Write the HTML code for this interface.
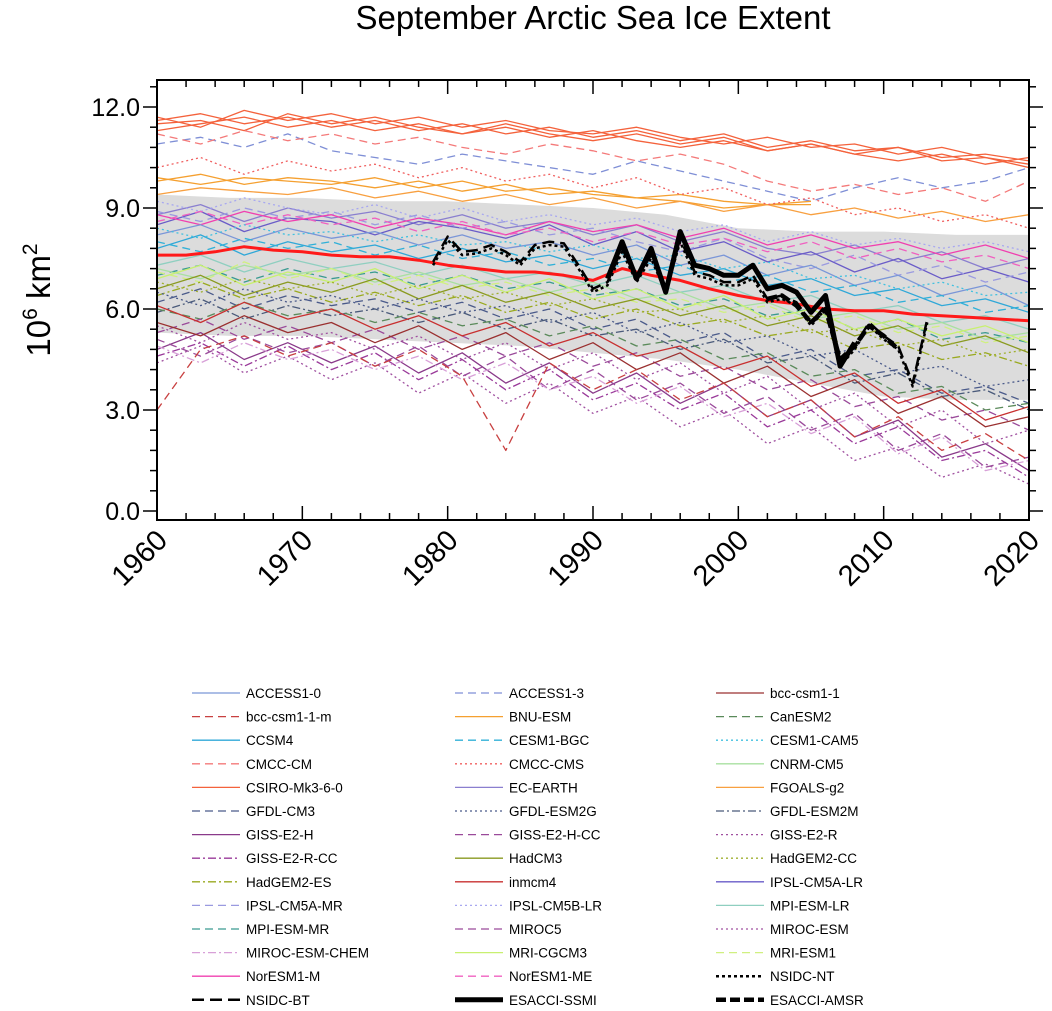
<!DOCTYPE html>
<html><head><meta charset="utf-8"><style>
body{margin:0;background:#fff;font-family:"Liberation Sans",sans-serif}
</style></head><body>
<svg id="c" width="1052" height="1006" xmlns="http://www.w3.org/2000/svg" font-family="Liberation Sans, sans-serif">
<text x="593" y="29" text-anchor="middle" font-size="33">September Arctic Sea Ice Extent</text>
<text transform="translate(50,300) rotate(-90)" text-anchor="middle" font-size="33">10<tspan dy="-13" font-size="21">6</tspan><tspan dy="13"> km</tspan><tspan dy="-13" font-size="21">2</tspan></text>
<g id="plot"></g>
<g id="axes"></g>
<g id="legend"></g>
</svg>
<script>
const modelYears=[1960,1963,1966,1969,1972,1975,1978,1981,1984,1987,1990,1993,1996,1999,2002,2005,2008,2011,2014,2017,2020];
const modelNames=["CSIRO-Mk3-6-0","CSIRO-Mk3-6-0","CSIRO-Mk3-6-0","CSIRO-Mk3-6-0","ACCESS1-3","CMCC-CM","BNU-ESM","BNU-ESM","FGOALS-g2","CMCC-CMS","EC-EARTH","IPSL-CM5A-LR","IPSL-CM5A-MR","IPSL-CM5B-LR","NorESM1-M","NorESM1-ME","ACCESS1-0","CCSM4","CESM1-BGC","CESM1-CAM5","MPI-ESM-LR","MPI-ESM-MR","CNRM-CM5","MRI-CGCM3","MRI-ESM1","HadCM3","HadGEM2-CC","HadGEM2-ES","GFDL-CM3","GFDL-ESM2G","GFDL-ESM2M","CanESM2","GISS-E2-H","GISS-E2-H-CC","GISS-E2-R","GISS-E2-R-CC","MIROC5","MIROC-ESM","MIROC-ESM-CHEM","bcc-csm1-1","bcc-csm1-1-m","inmcm4"];
const modelValues=[
[11.6,11.8,11.5,11.7,11.4,11.6,11.3,11.5,11.2,11.4,11.1,11.3,11.0,11.2,10.8,11.0,10.7,10.8,10.5,10.6,10.4],
[11.3,11.5,11.7,11.4,11.6,11.3,11.5,11.2,11.4,11.1,11.3,11.0,10.8,11.0,10.7,10.9,10.6,10.4,10.6,10.3,10.5],
[11.7,11.4,11.9,11.6,11.8,11.5,11.7,11.4,11.6,11.3,11.2,11.4,11.1,10.9,11.1,10.8,10.9,10.6,10.8,10.5,10.3],
[11.5,11.6,11.3,11.8,11.5,11.7,11.4,11.2,11.5,11.2,11.0,11.2,10.9,11.1,10.7,10.9,10.6,10.8,10.4,10.5,10.2],
[10.9,11.1,10.8,11.2,10.7,10.5,10.3,10.6,10.4,10.2,10.0,10.4,10.1,9.8,9.5,9.2,9.6,9.9,9.6,9.8,10.2],
[11.2,10.9,11.3,11.0,11.2,10.9,11.1,10.8,10.6,10.9,10.7,10.4,10.6,10.3,9.8,9.5,9.7,9.4,9.6,9.2,9.8],
[9.9,9.7,9.9,9.8,9.7,9.9,9.6,9.8,9.5,9.6,9.4,9.3,9.4,9.2,9.1,9.1,null,null,null,null,null],
[9.8,10.0,9.7,9.9,9.8,9.6,9.8,9.5,9.7,9.4,9.5,9.3,9.2,9.0,9.1,9.2,null,null,null,null,null],
[9.4,9.6,9.5,9.4,9.6,9.3,9.5,9.2,9.4,9.1,9.3,9.0,9.2,8.9,9.1,8.8,9.0,8.7,8.9,8.6,8.8],
[10.2,10.5,10.0,10.4,10.1,10.3,9.9,10.2,9.8,10.0,9.6,9.9,9.4,9.6,9.1,9.3,8.8,9.0,8.6,8.8,8.4],
[8.8,9.1,8.6,9.0,8.7,8.9,8.5,8.8,8.4,8.6,8.2,8.5,8.0,8.3,7.8,7.6,7.9,7.4,7.7,7.2,7.5],
[8.5,8.9,8.3,8.7,8.6,8.2,8.6,8.4,8.1,8.5,7.9,8.3,7.7,8.0,7.4,7.7,7.1,7.5,6.9,7.2,6.8],
[8.9,8.6,9.0,8.7,8.9,8.5,8.8,8.4,8.6,8.2,8.4,8.0,7.7,8.1,7.5,7.2,7.6,7.0,7.3,6.8,7.1],
[9.2,8.9,9.3,9.0,8.8,9.1,8.7,9.0,8.6,8.8,8.5,8.7,8.3,8.5,8.0,8.3,7.9,8.1,7.8,8.0,7.7],
[8.8,8.5,8.9,8.6,8.8,8.4,8.7,8.5,8.2,8.6,8.3,8.5,8.1,8.4,7.9,8.2,7.8,8.0,7.6,7.9,7.5],
[8.6,8.9,8.5,8.8,8.5,8.7,8.3,8.6,8.2,8.4,8.0,8.3,7.9,8.1,7.7,8.0,7.5,7.8,7.4,7.6,7.2],
[8.2,8.5,8.0,8.4,8.1,8.3,7.9,8.2,7.8,8.0,7.6,7.9,7.3,7.6,7.0,7.3,6.7,7.0,6.4,6.7,6.1],
[7.8,8.2,7.6,8.0,7.7,7.9,7.5,7.8,7.4,7.6,7.2,7.5,7.0,7.2,6.7,6.9,6.4,6.6,6.1,6.3,5.9],
[8.0,7.7,8.1,7.8,8.0,7.6,7.9,7.5,7.7,7.3,7.5,7.1,7.3,6.8,7.0,6.5,6.7,6.2,6.4,5.9,6.1],
[8.4,8.1,8.5,8.2,8.3,8.0,8.2,7.9,8.0,7.7,7.9,7.5,7.6,7.2,7.4,6.9,7.0,6.6,6.8,6.4,6.5],
[7.3,7.6,7.1,7.5,7.2,7.4,7.0,7.3,6.9,7.1,6.7,7.0,6.5,6.7,6.2,6.4,5.9,6.1,5.6,5.8,5.4],
[7.0,7.3,6.8,7.2,6.9,7.1,6.7,7.0,6.6,6.8,6.4,6.6,6.1,6.3,5.8,6.0,5.4,5.7,5.1,5.3,5.0],
[7.2,6.9,7.3,7.0,7.2,6.8,7.1,6.7,6.9,6.5,6.8,6.3,6.5,6.0,6.2,5.7,5.9,5.4,5.6,5.1,5.3],
[6.9,7.3,6.7,7.1,6.8,7.2,6.6,7.0,6.5,6.9,6.3,6.6,6.0,6.4,5.7,6.0,5.4,5.7,5.2,5.5,5.0],
[7.1,6.8,7.4,6.9,7.2,6.7,7.0,6.6,6.8,6.4,6.6,6.2,6.3,5.9,6.1,5.6,5.8,5.3,5.5,5.0,5.2],
[6.6,7.0,6.4,6.8,6.5,6.9,6.3,6.7,6.2,6.5,6.0,6.3,5.8,6.1,5.5,5.8,5.2,5.5,4.9,5.2,4.7],
[6.8,6.5,6.9,6.6,6.8,6.4,6.7,6.3,6.5,6.1,6.3,5.9,6.0,5.6,5.8,5.3,5.4,4.9,5.1,4.6,4.8],
[6.4,6.8,6.3,6.6,6.2,6.5,6.1,6.4,5.9,6.2,5.7,6.0,5.5,5.7,5.2,5.4,4.8,5.0,4.5,4.7,4.3],
[6.2,6.6,6.0,6.4,6.1,6.3,5.9,6.2,5.7,6.0,5.4,5.7,5.0,5.3,4.5,4.8,4.0,4.2,3.5,3.7,3.2],
[6.5,6.1,6.6,6.2,6.4,6.0,6.3,5.9,6.1,5.6,5.9,5.3,5.6,5.0,5.2,4.6,4.8,4.1,4.3,3.7,3.9],
[5.9,6.3,5.7,6.1,5.8,6.0,5.6,5.9,5.4,5.7,5.2,5.4,4.8,5.1,4.4,4.6,3.8,4.1,3.4,3.6,3.0],
[6.0,5.7,6.2,5.8,6.0,5.6,5.9,5.5,5.7,5.2,5.5,4.9,5.1,4.5,4.7,4.0,4.2,3.5,3.7,3.0,3.2],
[4.8,5.3,4.5,5.0,4.4,4.9,4.1,4.7,3.8,4.4,3.5,4.1,3.2,3.8,2.8,3.3,2.2,2.7,1.6,2.0,1.2],
[5.1,4.6,5.2,4.7,5.0,4.3,4.9,4.0,4.6,3.6,4.2,3.3,3.8,2.9,3.4,2.4,2.9,1.8,2.3,1.3,1.6],
[5.5,5.0,5.6,5.1,5.3,4.8,5.2,4.5,5.0,4.2,4.7,3.9,4.4,3.5,4.0,3.0,3.5,2.5,3.0,2.0,2.4],
[4.6,5.0,4.3,4.9,4.2,4.7,3.9,4.5,3.6,4.2,3.3,3.8,3.0,3.5,2.5,3.0,2.0,2.5,1.5,1.8,1.0],
[5.3,5.7,5.1,5.5,5.0,5.4,4.8,5.2,4.6,5.0,4.3,4.7,4.0,4.3,3.6,3.9,3.1,3.4,2.7,3.0,2.4],
[4.4,4.9,4.1,4.6,3.9,4.4,3.5,4.1,3.2,3.8,2.9,3.4,2.5,3.0,2.0,2.5,1.5,1.9,1.0,1.4,0.8],
[4.9,4.4,5.0,4.5,4.8,4.2,4.6,3.9,4.4,3.6,4.0,3.2,3.7,2.8,3.2,2.3,2.8,1.7,2.2,1.2,1.5],
[5.6,5.2,5.8,5.3,5.6,5.0,5.5,4.8,5.3,4.5,5.0,4.2,4.7,3.8,4.3,3.4,3.9,2.9,3.4,2.5,2.8],
[3.0,4.8,5.2,4.6,5.0,4.3,4.8,4.0,1.8,4.4,3.6,4.2,3.3,3.8,2.8,3.3,2.2,2.8,1.8,2.3,1.5],
[6.1,5.6,6.2,5.7,6.0,5.4,5.8,5.2,5.6,4.9,5.3,4.6,4.9,4.2,4.6,3.7,4.1,3.2,3.6,2.7,3.1]
];
const bandYears=[1960,1965,1970,1975,1980,1985,1990,1995,2000,2005,2010,2015,2020];
const bandUpper=[9.4,9.3,9.3,9.2,9.2,9.1,9.0,8.8,8.4,8.3,8.3,8.2,8.2];
const bandLower=[5.3,5.2,5.2,5.1,5.0,4.9,4.7,4.5,4.2,3.8,3.4,3.3,3.3];
const meanYears=[1960,1962,1964,1966,1968,1970,1972,1974,1976,1978,1980,1982,1984,1986,1988,1990,1992,1994,1996,1998,2000,2002,2004,2006,2008,2010,2012,2014,2016,2018,2020];
const meanValues=[7.6,7.6,7.7,7.85,7.75,7.7,7.6,7.55,7.55,7.45,7.3,7.2,7.1,7.1,7.0,6.85,7.2,7.0,6.85,6.6,6.4,6.25,6.15,6.0,5.95,5.95,5.85,5.8,5.75,5.7,5.65];
const ntYears=[1979,1980,1981,1982,1983,1984,1985,1986,1987,1988,1989,1990,1991,1992,1993,1994,1995,1996,1997,1998,1999,2000,2001,2002,2003,2004,2005,2006,2007,2008,2009,2010,2011,2012,2013];
const ntValues=[7.3,8.05,7.6,7.65,7.8,7.6,7.3,7.8,7.9,7.85,7.2,6.5,6.7,7.7,6.8,7.5,6.5,8.0,7.0,6.9,6.7,6.7,6.9,6.2,6.3,6.1,5.5,6.0,4.3,4.8,5.5,5.1,4.8,3.7,5.6];
const btValues=[7.4,8.15,7.7,7.75,7.9,7.7,7.4,7.9,8.0,7.95,7.3,6.6,6.8,7.8,6.9,7.6,6.6,8.1,7.1,7.0,6.8,6.8,7.0,6.3,6.4,6.2,5.6,6.1,4.4,4.9,5.6,5.2,4.9,3.8,5.7];
const ssmiYears=[1991,1992,1993,1994,1995,1996,1997,1998,1999,2000,2001,2002,2003,2004,2005,2006,2007,2008];
const ssmiValues=[6.9,8.0,6.9,7.8,6.5,8.3,7.3,7.2,7.0,7.0,7.3,6.6,6.7,6.5,5.9,6.4,4.3,5.0];
const amsrYears=[2002,2003,2004,2005,2006,2007,2008,2009,2010,2011];
const amsrValues=[6.3,6.4,6.1,5.6,6.0,4.5,4.9,5.5,5.2,4.8];

const X0=157,X1=1029,Y0=80,Y1=520;
const xs=y=>X0+(y-1960)*(X1-X0)/60;
const ys=v=>511-v*(404/12);
const NS="http://www.w3.org/2000/svg";
function mk(t,p,attrs){const e=document.createElementNS(NS,t);for(const k in attrs)e.setAttribute(k,attrs[k]);p.appendChild(e);return e;}
const styles={
"ACCESS1-0":["#7a96d8",""],"ACCESS1-3":["#7f8fd6","8 5"],"bcc-csm1-1":["#9a3030",""],
"bcc-csm1-1-m":["#c84040","8 5"],"BNU-ESM":["#f5a030",""],"CanESM2":["#5a8a5a","8 5"],
"CCSM4":["#30a8d8",""],"CESM1-BGC":["#30b0d8","8 5"],"CESM1-CAM5":["#40c0e0","2 3"],
"CMCC-CM":["#f47a7a","8 5"],"CMCC-CMS":["#f06060","2 3"],"CNRM-CM5":["#a8e0a0",""],
"CSIRO-Mk3-6-0":["#f4623c",""],"EC-EARTH":["#8a7fcf",""],"FGOALS-g2":["#f8a040",""],
"GFDL-CM3":["#4a5a8a","8 5"],"GFDL-ESM2G":["#4a5a8a","2 3"],"GFDL-ESM2M":["#4a5a7a","8 3 2 3"],
"GISS-E2-H":["#8a3a8a",""],"GISS-E2-H-CC":["#9a4a9a","8 5"],"GISS-E2-R":["#a050a0","2 3"],
"GISS-E2-R-CC":["#9a3a9a","8 3 2 3"],"HadCM3":["#8a9a20",""],"HadGEM2-CC":["#a0b030","2 3"],
"HadGEM2-ES":["#9aaa20","8 3 2 3"],"inmcm4":["#c83030",""],"IPSL-CM5A-LR":["#6a5cc8",""],
"IPSL-CM5A-MR":["#9a9ae0","8 5"],"IPSL-CM5B-LR":["#a8a8f0","2 3"],"MPI-ESM-LR":["#8fcfc0",""],
"MPI-ESM-MR":["#3a9a90","8 5"],"MIROC5":["#9a4a9a","8 5"],"MIROC-ESM":["#a050a0","2 3"],
"MIROC-ESM-CHEM":["#d8a0d8","8 3 2 3"],"MRI-CGCM3":["#c8f070",""],"MRI-ESM1":["#d0f080","8 5"],
"NorESM1-M":["#f040b0",""],"NorESM1-ME":["#f060c0","8 5"]};
const plot=document.getElementById('plot');
mk('clipPath',plot,{id:'clip'});
mk('rect',plot.lastChild,{x:X0,y:Y0,width:X1-X0,height:Y1-Y0});
let bp=bandYears.map((y,i)=>xs(y)+','+ys(bandUpper[i])).join(' ')+' '+bandYears.slice().reverse().map((y,i)=>xs(y)+','+ys(bandLower[bandYears.length-1-i])).join(' ');
const band=mk('polygon',plot,{points:bp,fill:'#dcdcdc'});


function line(years,vals,stroke,dash,w){
 let d='',pen=false;
 years.forEach((y,i)=>{const v=vals[i];if(v==null){pen=false;return;}d+=(pen?'L':'M')+xs(y).toFixed(1)+' '+ys(v).toFixed(1);pen=true;});
 const p=mk('path',plot,{d:d,fill:'none',stroke:stroke,'stroke-width':w,'clip-path':'url(#clip)','stroke-linejoin':'round'});
 if(dash)p.setAttribute('stroke-dasharray',dash);
 return p;
}
modelValues.forEach((vals,i)=>{
 const s=styles[modelNames[i]];
 const p=line(modelYears,vals,s[0],s[1],1.3);
 
 
});
let p=line(meanYears,meanValues,'#ff1a1a','',3);


p=line(ntYears,ntValues,'#000','3 3',2.5);


p=line(ntYears,btValues,'#000','12 6',2.5);


p=line(ssmiYears,ssmiValues,'#000','',5);


p=line(amsrYears,amsrValues,'#000','10 4',4.5);



const ax=document.getElementById('axes');
const fr=mk('rect',ax,{x:X0,y:Y0,width:X1-X0,height:Y1-Y0,fill:'none',stroke:'#000','stroke-width':2});


const yTicks=[0,3,6,9,12];
const yTickLabels=["0.0","3.0","6.0","9.0","12.0"];
for(let v=0;v<=12.6;v+=0.6){const y=ys(v);const maj=Math.abs(v/3-Math.round(v/3))<1e-6;const L=maj?14:7;
 mk('line',ax,{x1:X0,x2:X0-L,y1:y,y2:y,stroke:'#000','stroke-width':1.5});
 mk('line',ax,{x1:X1,x2:X1+L,y1:y,y2:y,stroke:'#000','stroke-width':1.5});}
yTicks.forEach((v,i)=>{const t=mk('text',ax,{x:140,y:ys(v)+9,'text-anchor':'end','font-size':25});t.textContent=yTickLabels[i];
 
 });
const xTicks=[1960,1970,1980,1990,2000,2010,2020];
for(let yr=1960;yr<=2020;yr+=2){const x=xs(yr);const maj=yr%10==0;const L=maj?14:7;
 mk('line',ax,{x1:x,x2:x,y1:Y1,y2:Y1-L,stroke:'#000','stroke-width':1.5});
 mk('line',ax,{x1:x,x2:x,y1:Y0,y2:Y0+L,stroke:'#000','stroke-width':1.5});}
xTicks.forEach(yr=>{const x=xs(yr);const t=mk('text',ax,{transform:`translate(${x+12},${Y1+22}) rotate(-45)`,'text-anchor':'end','font-size':29});t.textContent=yr;
 
 });

const leg=document.getElementById('legend');
const legNames=["ACCESS1-0","ACCESS1-3","bcc-csm1-1","bcc-csm1-1-m","BNU-ESM","CanESM2","CCSM4","CESM1-BGC","CESM1-CAM5","CMCC-CM","CMCC-CMS","CNRM-CM5","CSIRO-Mk3-6-0","EC-EARTH","FGOALS-g2","GFDL-CM3","GFDL-ESM2G","GFDL-ESM2M","GISS-E2-H","GISS-E2-H-CC","GISS-E2-R","GISS-E2-R-CC","HadCM3","HadGEM2-CC","HadGEM2-ES","inmcm4","IPSL-CM5A-LR","IPSL-CM5A-MR","IPSL-CM5B-LR","MPI-ESM-LR","MPI-ESM-MR","MIROC5","MIROC-ESM","MIROC-ESM-CHEM","MRI-CGCM3","MRI-ESM1","NorESM1-M","NorESM1-ME","NSIDC-NT","NSIDC-BT","ESACCI-SSMI","ESACCI-AMSR"];
const obsStyle={"NSIDC-NT":["#000","3 3",2.5],"NSIDC-BT":["#000","12 6",2.5],"ESACCI-SSMI":["#000","",5],"ESACCI-AMSR":["#000","10 4",4.5]};
const colX=[192,455,716];
legNames.forEach((n,i)=>{const c=i%3,r=Math.floor(i/3);const x=colX[c],y=693+r*23.6;
 const g=mk('g',leg,{});
 
 
 let st=styles[n]?[styles[n][0],styles[n][1],1.3]:obsStyle[n];
 const l=mk('line',g,{x1:x,x2:x+48,y1:y,y2:y,stroke:st[0],'stroke-width':st[2]});
 if(st[1])l.setAttribute('stroke-dasharray',st[1]);
 const t=mk('text',g,{x:x+54,y:y+5,'font-size':13.5});t.textContent=n;});
</script>
</body></html>
